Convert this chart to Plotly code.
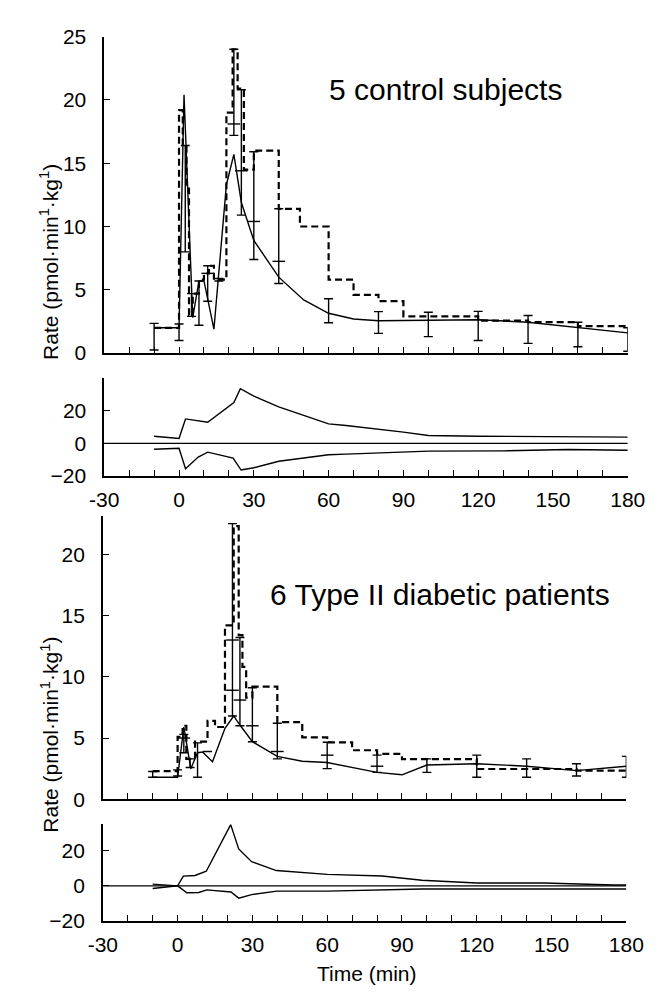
import plotly.graph_objects as go

# ---------------- data: 5 control subjects ----------------
ctrl_step_t = [-10, 0, 1.5, 3, 4, 5.5, 8, 10, 12, 14, 19, 21.5, 23.5, 26, 30, 40, 48.5, 60, 70, 80, 90, 120, 140, 160, 180]
ctrl_step_v = [2.0, 19.2, 16.4, 13.0, 3.0, 4.7, 5.8, 6.3, 6.9, 5.8, 19.0, 24.0, 20.9, 14.5, 16.0, 11.4, 10.0, 5.8, 4.6, 4.1, 2.9, 2.56, 2.45, 2.13, 2.13]

ctrl_fit_t = [-10, 0, 2, 5.5, 8, 10, 14, 19, 22, 25, 30, 40, 50, 60, 70, 80, 100, 120, 140, 160, 180]
ctrl_fit_v = [2.0, 2.0, 20.4, 2.8, 5.7, 5.7, 1.9, 13.3, 15.7, 11.9, 8.9, 6.0, 4.2, 3.15, 2.7, 2.56, 2.6, 2.64, 2.44, 2.0, 1.6]

ctrl_err_t = [-10, 0, 2.5, 5, 8, 11.5, 16, 22, 25, 30, 40, 60, 80, 100, 120, 140, 160, 180]
ctrl_err_lo = [0.25, 1.0, 8.0, 2.9, 2.2, 4.1, 5.7, 17.2, 10.9, 7.4, 5.5, 2.4, 1.56, 1.3, 1.0, 0.77, 0.5, 0.15]
ctrl_err_hi = [2.35, 2.3, 16.4, 4.7, 5.7, 6.9, 5.9, 24.0, 20.8, 15.9, 11.4, 4.3, 3.28, 3.23, 3.3, 2.97, 2.44, 2.0]
ctrl_tick_t = [11.5, 22, 25, 30, 40]
ctrl_tick_v = [6.3, 18.1, 14.4, 10.4, 7.25]

ctrl_up_t = [-10, 0, 2.6, 11.5, 22, 24.6, 30, 40, 60, 67, 90, 100, 120, 150, 160, 180]
ctrl_up_v = [4.4, 3.0, 15, 13, 25, 33.6, 29, 22.4, 12, 11, 6.9, 4.8, 4.4, 4.2, 3.8, 3.8]
ctrl_lo_t = [-10, 0, 2.6, 7.7, 11.5, 21.7, 24.9, 30, 40, 60, 67, 100, 130, 156, 180]
ctrl_lo_v = [-3.6, -3.0, -15.6, -8.4, -5.4, -9, -16.4, -15, -11, -7, -6.6, -4.8, -4.6, -3.8, -4.2]

# ---------------- data: 6 Type II diabetic patients ----------------
diab_step_t = [-10, 0, 2, 3.5, 7, 12, 15, 19, 22.5, 24.5, 26, 27.5, 30, 40, 50, 60, 70, 80, 90, 120, 160, 180]
diab_step_v = [2.3, 5.1, 6.0, 3.3, 4.7, 6.4, 5.9, 14.2, 22.3, 13.4, 10.8, 8.3, 9.2, 6.3, 5.05, 4.65, 4.0, 3.7, 3.27, 2.47, 2.34, 2.34]

diab_fit_t = [-10, 0, 2.5, 5.3, 8, 10, 14, 19, 22.5, 25, 30, 40, 50, 60, 80, 90, 100, 120, 140, 160, 180]
diab_fit_v = [1.8, 1.8, 5.9, 2.5, 3.8, 3.85, 3.06, 5.8, 6.8, 6.06, 4.7, 3.5, 3.1, 3.0, 2.2, 2.0, 2.8, 2.9, 2.7, 2.34, 2.7]

diab_err_t = [-10, 0, 2.5, 5, 8, 12, 22, 25, 30, 40, 60, 80, 100, 120, 140, 160, 180]
diab_err_lo = [1.8, 1.9, 3.8, 2.6, 1.8, 3.9, 6.8, 6.0, 4.7, 3.3, 2.5, 2.2, 2.2, 1.8, 1.8, 1.9, 1.8]
diab_err_hi = [2.27, 2.4, 5.3, 3.3, 4.6, 3.9, 22.5, 13.2, 9.1, 6.2, 4.65, 3.6, 3.3, 3.6, 3.3, 2.9, 3.5]
diab_tick_t = [2.5, 22, 22, 25, 30, 40, 60, 80]
diab_tick_v = [5.0, 8.9, 13.0, 8.1, 6.0, 3.9, 3.6, 2.7]

diab_up_t = [-10, 0, 2.3, 7, 11.5, 21.3, 24.5, 29.7, 39.6, 60, 82, 98, 120, 147, 175, 180]
diab_up_v = [1.0, 0, 5.5, 5.9, 8.3, 34.8, 21, 13.7, 8.7, 6.5, 5.6, 3.2, 1.6, 1.6, 0.5, 0.5]
diab_lo_t = [-10, 0, 3.7, 8.5, 11.7, 21.4, 24.5, 29.7, 39.8, 60, 98, 146, 180]
diab_lo_v = [-1.5, 0, -3.9, -3.8, -2.3, -3.5, -7.0, -5.0, -3.0, -3.0, -1.8, -1.6, -1.8]

zero_t = [-30, 180]
zero_v = [0, 0]

# ---------------- tick labels ----------------
x_major_vals = [-30, 0, 30, 60, 90, 120, 150, 180]
x_major_text = ["-30", "0", "30", "60", "90", "120", "150", "180"]
x_minor_vals = [-20, -10, 10, 20, 40, 50, 70, 80, 100, 110, 130, 140, 160, 170]
x_all_vals = list(range(-30, 181, 10))
ctrl_y_ticks = [0, 5, 10, 15, 20, 25]
diab_y_ticks = [0, 5, 10, 15, 20]
diff_y_ticks = [-20, 0, 20]

FONT = "Liberation Sans, Arial, sans-serif"
W, H = 662, 996

fig = go.Figure()


def add_panel(xa, ya, step_t, step_v, fit_t, fit_v, et, elo, ehi, tt, tv):
    fig.add_trace(go.Scatter(x=step_t, y=step_v, mode="lines", line_shape="hv",
                             line=dict(color="black", width=2.2, dash="7px,4px"),
                             xaxis=xa, yaxis=ya, cliponaxis=False, showlegend=False))
    fig.add_trace(go.Scatter(x=fit_t, y=fit_v, mode="lines",
                             line=dict(color="black", width=1.4),
                             xaxis=xa, yaxis=ya, cliponaxis=False, showlegend=False))
    fig.add_trace(go.Scatter(x=et, y=elo, mode="markers", marker=dict(size=1, color="rgba(0,0,0,0)"),
                             error_y=dict(type="data", symmetric=False,
                                          array=[h - l for h, l in zip(ehi, elo)],
                                          arrayminus=[0] * len(elo),
                                          color="black", thickness=1.4, width=4.5),
                             xaxis=xa, yaxis=ya, cliponaxis=False, showlegend=False))
    fig.add_trace(go.Scatter(x=tt, y=tv, mode="markers",
                             marker=dict(symbol="line-ew", size=9, line=dict(color="black", width=1.4)),
                             xaxis=xa, yaxis=ya, cliponaxis=False, showlegend=False))


def add_diff(xa, ya, ut, uv, lt, lv):
    for tx, ty in ((zero_t, zero_v), (ut, uv), (lt, lv)):
        fig.add_trace(go.Scatter(x=tx, y=ty, mode="lines", line=dict(color="black", width=1.4),
                                 xaxis=xa, yaxis=ya, cliponaxis=False, showlegend=False))


add_panel("x", "y", ctrl_step_t, ctrl_step_v, ctrl_fit_t, ctrl_fit_v,
          ctrl_err_t, ctrl_err_lo, ctrl_err_hi, ctrl_tick_t, ctrl_tick_v)
add_diff("x2", "y2", ctrl_up_t, ctrl_up_v, ctrl_lo_t, ctrl_lo_v)
add_panel("x3", "y3", diab_step_t, diab_step_v, diab_fit_t, diab_fit_v,
          diab_err_t, diab_err_lo, diab_err_hi, diab_tick_t, diab_tick_v)
add_diff("x4", "y4", diab_up_t, diab_up_v, diab_lo_t, diab_lo_v)


def px_x(a, b):
    return [a / W, b / W]


def px_y(top, bottom):
    return [(H - bottom) / H, (H - top) / H]


axis_common = dict(showline=True, linecolor="black", linewidth=1.6, ticks="inside",
                   ticklen=6, tickwidth=1.3, tickcolor="black", showgrid=False,
                   zeroline=False, mirror=False, fixedrange=True,
                   tickfont=dict(family=FONT, size=21, color="black"))
minor_x = dict(tickvals=x_minor_vals, ticks="inside", ticklen=6, tickwidth=1.3,
               tickcolor="black", showgrid=False)
minor_all = dict(tickvals=x_all_vals, ticks="inside", ticklen=6, tickwidth=1.3,
                 tickcolor="black", showgrid=False)

top_x = px_x(85.5, 636.5)
bot_x = px_x(84, 635)

fig.update_layout(
    width=W, height=H, margin=dict(l=0, r=0, t=0, b=0),
    paper_bgcolor="white", plot_bgcolor="white",
    font=dict(family=FONT, color="black"),
    xaxis=dict(domain=top_x, range=[-30, 180], anchor="y", tickvals=[],
               showticklabels=False, minor=minor_all, **axis_common),
    yaxis=dict(domain=px_y(17, 341), range=[0, 25], anchor="x", tickvals=ctrl_y_ticks,
               ticklabelstandoff=12, **axis_common),
    xaxis2=dict(domain=top_x, range=[-30, 180], anchor="y2", tickvals=x_major_vals,
                ticktext=x_major_text, ticklabelstandoff=4, minor=minor_x, **axis_common),
    yaxis2=dict(domain=px_y(366.7, 466.7), range=[-20, 40], anchor="x2", tickvals=diff_y_ticks,
                ticklabelstandoff=12, **axis_common),
    xaxis3=dict(domain=bot_x, range=[-30, 180], anchor="y3", tickvals=[],
                showticklabels=False, minor=minor_all, **axis_common),
    yaxis3=dict(domain=px_y(508, 797.7), range=[0, 23.1], anchor="x3", tickvals=diab_y_ticks,
                ticklabelstandoff=12, **axis_common),
    xaxis4=dict(domain=bot_x, range=[-30, 180], anchor="y4", tickvals=x_major_vals,
                ticktext=x_major_text, ticklabelstandoff=4, minor=minor_x, **axis_common),
    yaxis4=dict(domain=px_y(823.3, 922.3), range=[-20, 35], anchor="x4", tickvals=diff_y_ticks,
                ticklabelstandoff=12, **axis_common),
)

ytitle = "Rate (pmol·min<sup>1</sup>·kg<sup>1</sup>)"
fig.add_annotation(text="5 control subjects", xref="paper", yref="paper",
                   x=320 / W, y=(H - 71) / H, xanchor="left", yanchor="middle",
                   showarrow=False, font=dict(family=FONT, size=30, color="black"))
fig.add_annotation(text="6 Type II diabetic patients", xref="paper", yref="paper",
                   x=258 / W, y=(H - 588) / H, xanchor="left", yanchor="middle",
                   showarrow=False, font=dict(family=FONT, size=30, color="black"))
fig.add_annotation(text=ytitle, xref="paper", yref="paper", x=28 / W, y=(H - 248) / H,
                   xanchor="center", yanchor="middle", textangle=-90, showarrow=False,
                   font=dict(family=FONT, size=21, color="black"))
fig.add_annotation(text=ytitle, xref="paper", yref="paper", x=28 / W, y=(H - 732) / H,
                   xanchor="center", yanchor="middle", textangle=-90, showarrow=False,
                   font=dict(family=FONT, size=21, color="black"))
fig.add_annotation(text="Time (min)", xref="paper", yref="paper", x=362 / W, y=(H - 976) / H,
                   xanchor="center", yanchor="middle", showarrow=False,
                   font=dict(family=FONT, size=21, color="black"))

fig.write_html("out.html")
